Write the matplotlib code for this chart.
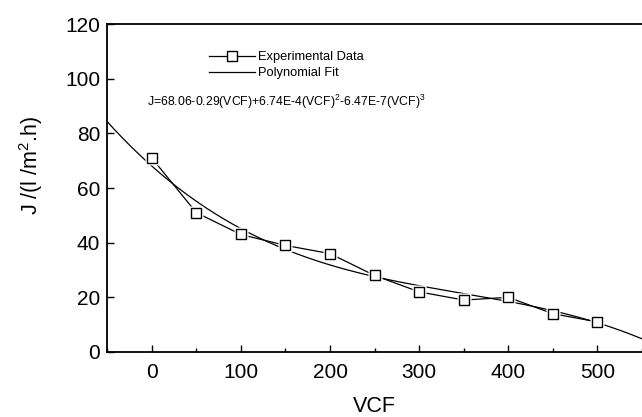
import numpy as np
import matplotlib
matplotlib.use('Agg')
import matplotlib.pyplot as plt
from matplotlib.ticker import MultipleLocator

# measured points
vcf = [0, 50, 100, 150, 200, 250, 300, 350, 400, 450, 500]
flux = [71, 51, 43, 39, 36, 28, 22, 19, 20, 14, 11]

# cubic fit coefficients, highest power first (from the equation on the chart)
fit_coef = [-6.47e-7, 6.74e-4, -0.29, 68.06]
fit_range = (-50, 550)

plt.rcParams['font.family'] = ['Liberation Sans', 'DejaVu Sans']
plt.rcParams['mathtext.default'] = 'regular'

fig = plt.figure(figsize=(6.42, 4.17), dpi=100)
ax = fig.add_axes([0.167, 0.156, 0.833, 0.786])

xf = np.linspace(fit_range[0], fit_range[1], 300)
ax.plot(xf, np.polyval(fit_coef, xf), color='black', lw=0.9, label='Polynomial Fit')

# data line with small gaps round the markers
ax.plot(vcf, flux, color='black', lw=0.9)
ax.plot(vcf, flux, ls='none', marker='s', ms=10.5, mfc='white', mec='none')
ax.plot(vcf, flux, ls='none', marker='s', ms=7.5, mfc='white', mec='black', mew=1.0)

# legend handles
h_exp, = ax.plot([], [], color='black', lw=0.9, marker='s', ms=6.5, mfc='white', mec='black',
                 label='Experimental Data')
h_fit, = ax.plot([], [], color='black', lw=0.9, label='Polynomial Fit')
ax.legend(handles=[h_exp, h_fit], loc='upper left', bbox_to_anchor=(0.316, 0.893),
          bbox_transform=fig.transFigure, frameon=False, fontsize=9.3,
          handlelength=3.5, handletextpad=0.3, labelspacing=0.3, borderpad=0)

fig.text(0.229, 0.755,
         'J=68.06-0.29(VCF)+6.74E-4(VCF)$^2$-6.47E-7(VCF)$^3$', fontsize=8.8,
         ha='left', va='center')

ax.set_xlim(-50, 550)
ax.set_ylim(0, 120)
ax.xaxis.set_major_locator(MultipleLocator(100))
ax.xaxis.set_minor_locator(MultipleLocator(50))
ax.yaxis.set_major_locator(MultipleLocator(20))
ax.tick_params(which='both', direction='in', top=False, right=False, labelsize=15, width=1.0)
ax.tick_params(which='major', length=5)
ax.tick_params(which='minor', length=3)
ax.tick_params(axis='y', pad=5)
ax.tick_params(axis='x', pad=8)
for s in ['left', 'bottom', 'top']:
    ax.spines[s].set_linewidth(1.3)
ax.spines['right'].set_visible(False)

ax.set_xlabel('VCF', fontsize=15.5, labelpad=10)
ax.set_ylabel('J /(l /m$^2$.h)', fontsize=15.5)
ax.yaxis.set_label_coords(-0.116, 0.57)

fig.savefig('out.png', dpi=100)
